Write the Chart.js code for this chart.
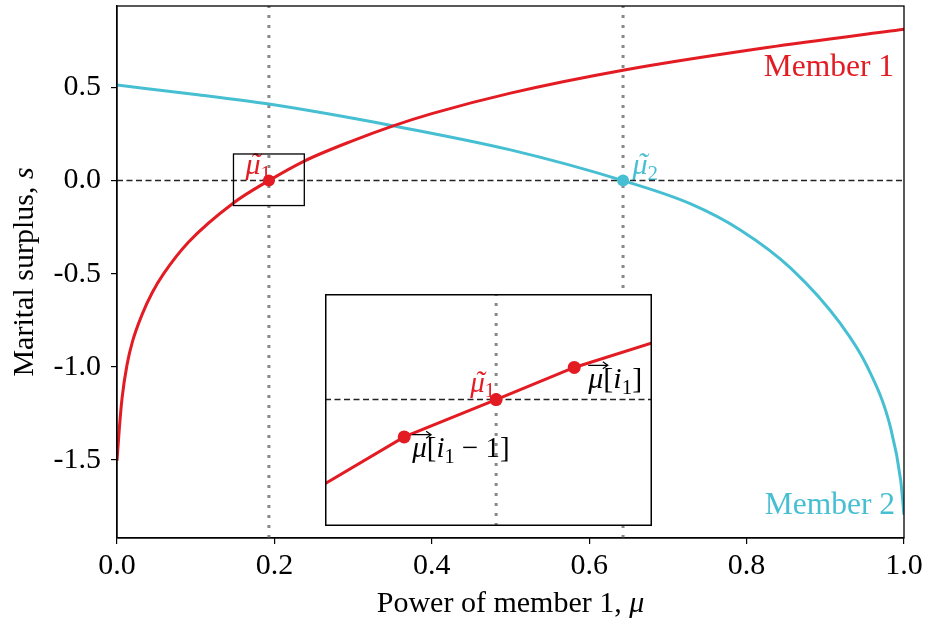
<!DOCTYPE html>
<html lang="en">
<head>
<meta charset="UTF-8">
<title>Marital surplus</title>
<script src="https://cdn.jsdelivr.net/npm/chart.js"></script>
<style>
  body { margin: 0; background: #fff; }
  #wrap { position: relative; width: 926px; height: 626px; }
  #main { position: absolute; left: 0; top: 0; }
  #inset { position: absolute; left: 325px; top: 294px; }
</style>
</head>
<body>
<div id="wrap">
  <canvas id="main" width="926" height="626"></canvas>
  <canvas id="inset" width="327" height="232"></canvas>
</div>
<script>
// member 1 surplus (red)
const mu1 = [0, 0.003, 0.0064, 0.0127, 0.02, 0.0318, 0.045, 0.0593, 0.091, 0.148, 0.193, 0.238, 0.30, 0.35, 0.40, 0.50, 0.643, 0.826, 1.0];
const s1  = [-1.505, -1.33, -1.17, -0.99, -0.86, -0.72, -0.6, -0.5, -0.33, -0.12, 0, 0.105, 0.215, 0.293, 0.36, 0.47, 0.593, 0.715, 0.813];
// member 2 surplus (cyan)
const mu2 = [0, 0.1, 0.193, 0.35, 0.5, 0.643, 0.729, 0.792, 0.856, 0.9195, 0.9534, 0.9831, 0.9958, 1.0];
const s2  = [0.513, 0.463, 0.411, 0.295, 0.165, 0, -0.125, -0.265, -0.47, -0.77, -1.0, -1.33, -1.61, -1.795];
// roots
const muTilde = [0.193, 0.643];
const xTicks = [0, 0.2, 0.4, 0.6, 0.8, 1.0];
const yTicks = [-1.5, -1.0, -0.5, 0, 0.5];
const xRange = [0, 1];
const yRange = [-1.92, 0.938];
// zoom window shown in the inset
const zoomBoxX = [0.148, 0.238];
const zoomBoxY = [-0.134, 0.143];
// inset: discrete grid around mu~1
const insetMu = [0.1459, 0.1677, 0.193, 0.2145, 0.2359];
const insetS  = [-0.1005, -0.0447, 0, 0.0383, 0.0677];
const insetX = [0.1459, 0.2359];
const insetY = [-0.151, 0.126];

const RED = '#e31b23';
const CYAN = '#47bfd2';
const SERIF = '"Liberation Serif", "DejaVu Serif", serif';

const pts = (xs, ys) => xs.map((x, i) => ({x: x, y: ys[i]}));

// draws a small run of "math" text: italic parts, subscripts, tilde and arrow accents
function drawMath(ctx, x, y, parts, color, size, align) {
    const fontOf = p => (p.it ? 'italic ' : '') + (p.sub ? size * 0.7 : size) + 'px ' + SERIF;
    ctx.save();
    ctx.fillStyle = color;
    ctx.strokeStyle = color;
    ctx.textBaseline = 'alphabetic';
    ctx.textAlign = 'left';
    let w = 0;
    parts.forEach(p => { ctx.font = fontOf(p); w += ctx.measureText(p.t).width; });
    let cx = align === 'right' ? x - w : (align === 'center' ? x - w / 2 : x);
    parts.forEach(p => {
        ctx.font = fontOf(p);
        const pw = ctx.measureText(p.t).width;
        const py = p.sub ? y + size * 0.2 : y;
        ctx.fillText(p.t, cx, py);
        if (p.tilde) {
            ctx.textAlign = 'center';
            ctx.fillText('\u02DC', cx + pw / 2 + size * 0.08, y - 1);
            ctx.textAlign = 'left';
        }
        if (p.arrow) {
            const ay = y - size * 0.77;
            const x0 = cx, x1 = cx + pw + size * 0.15;
            ctx.lineWidth = 1.2;
            ctx.beginPath();
            ctx.moveTo(x0, ay); ctx.lineTo(x1, ay);
            ctx.moveTo(x1 - 5, ay - 3.5); ctx.lineTo(x1, ay); ctx.lineTo(x1 - 5, ay + 3.5);
            ctx.stroke();
        }
        cx += pw;
    });
    ctx.restore();
}

const mainDecor = {
    id: 'mainDecor',
    beforeDatasetsDraw(chart) {
        const ctx = chart.ctx, xs = chart.scales.x, ys = chart.scales.y;
        // root labels
        const px1 = xs.getPixelForValue(muTilde[0]), px2 = xs.getPixelForValue(muTilde[1]);
        const py0 = ys.getPixelForValue(0);
        drawMath(ctx, px1 - 23.5, py0 - 7, [{t: 'μ', it: 1, tilde: 1}, {t: '1', sub: 1}], RED, 30, 'left');
        drawMath(ctx, px2 + 9.5, py0 - 7, [{t: 'μ', it: 1, tilde: 1}, {t: '2', sub: 1}], CYAN, 30, 'left');
    },
    afterDraw(chart) {
        const ctx = chart.ctx, a = chart.chartArea, xs = chart.scales.x, ys = chart.scales.y;
        ctx.save();
        // zoom box
        const bx0 = xs.getPixelForValue(zoomBoxX[0]), bx1 = xs.getPixelForValue(zoomBoxX[1]);
        const by0 = ys.getPixelForValue(zoomBoxY[1]), by1 = ys.getPixelForValue(zoomBoxY[0]);
        ctx.strokeStyle = '#000';
        ctx.lineWidth = 1.3;
        ctx.strokeRect(bx0, by0, bx1 - bx0, by1 - by0);
        // frame
        ctx.strokeRect(a.left, a.top, a.right - a.left, a.bottom - a.top);
        // curve names
        ctx.font = '31.5px ' + SERIF;
        ctx.textAlign = 'right';
        ctx.fillStyle = RED;
        ctx.fillText('Member 1', a.right - 10, 76);
        ctx.fillStyle = CYAN;
        ctx.fillText('Member 2', a.right - 9, 514);
        ctx.restore();
        // axis titles
        drawMath(ctx, (a.left + a.right) / 2, 612, [{t: 'Power of member 1, '}, {t: 'μ', it: 1}], '#000', 30, 'center');
        ctx.save();
        ctx.translate(33, (a.top + a.bottom) / 2);
        ctx.rotate(-Math.PI / 2);
        drawMath(ctx, 0, 0, [{t: 'Marital surplus, '}, {t: 's', it: 1}], '#000', 30, 'center');
        ctx.restore();
    }
};

new Chart(document.getElementById('main'), {
    type: 'line',
    data: {
        datasets: [
            {data: pts([muTilde[0]], [0]), showLine: false, pointRadius: 6, pointBackgroundColor: RED, pointBorderWidth: 0, order: 0},
            {data: pts([muTilde[1]], [0]), showLine: false, pointRadius: 6, pointBackgroundColor: CYAN, pointBorderWidth: 0, order: 0},
            {data: pts(mu1, s1), borderColor: RED, borderWidth: 3, pointRadius: 0, cubicInterpolationMode: 'monotone', order: 1},
            {data: pts(mu2, s2), borderColor: CYAN, borderWidth: 3, pointRadius: 0, cubicInterpolationMode: 'monotone', order: 1},
            {data: pts(xRange, [0, 0]), borderColor: '#222', borderWidth: 1.5, borderDash: [6, 3.5], pointRadius: 0, order: 2},
            {data: pts([muTilde[0], muTilde[0]], yRange), borderColor: '#888', borderWidth: 3, borderDash: [3, 7], pointRadius: 0, order: 2},
            {data: pts([muTilde[1], muTilde[1]], yRange), borderColor: '#888', borderWidth: 3, borderDash: [3, 7], pointRadius: 0, order: 2}
        ]
    },
    options: {
        responsive: false,
        animation: false,
        layout: {padding: {top: 5, right: 22, left: 0, bottom: 0}},
        plugins: {legend: {display: false}, tooltip: {enabled: false}},
        scales: {
            x: {
                type: 'linear', min: xRange[0], max: xRange[1],
                afterBuildTicks: s => { s.ticks = xTicks.map(v => ({value: v})); },
                afterFit: s => { s.height = 88; s.paddingLeft = 0; s.paddingRight = 0; },
                grid: {drawOnChartArea: false, tickLength: 6, color: '#000', lineWidth: 1.2},
                border: {color: '#000', width: 1.3},
                ticks: {color: '#000', font: {family: SERIF, size: 30}, padding: 4, maxRotation: 0, autoSkip: false,
                        callback: v => v.toFixed(1)}
            },
            y: {
                type: 'linear', min: yRange[0], max: yRange[1],
                afterBuildTicks: s => { s.ticks = yTicks.map(v => ({value: v})); },
                afterFit: s => { s.width = 117; s.paddingTop = 0; s.paddingBottom = 0; },
                grid: {drawOnChartArea: false, tickLength: 6, color: '#000', lineWidth: 1.2},
                border: {color: '#000', width: 1.3},
                ticks: {color: '#000', font: {family: SERIF, size: 30}, padding: 10, autoSkip: false,
                        callback: v => v.toFixed(1)}
            }
        }
    },
    plugins: [mainDecor]
});

const insetDecor = {
    id: 'insetDecor',
    beforeDraw(chart) {
        const ctx = chart.ctx;
        ctx.save();
        ctx.fillStyle = '#fff';
        ctx.fillRect(0, 0, chart.width, chart.height);
        ctx.restore();
    },
    afterDatasetsDraw(chart) {
        const ctx = chart.ctx, xs = chart.scales.x, ys = chart.scales.y;
        const p = i => [xs.getPixelForValue(insetMu[i]), ys.getPixelForValue(insetS[i])];
        const [lx, ly] = p(1), [cx, cy] = p(2), [rx, ry] = p(3);
        drawMath(ctx, cx - 26, cy - 8, [{t: 'μ', it: 1, tilde: 1}, {t: '1', sub: 1}], RED, 29, 'left');
        drawMath(ctx, rx + 14, ry + 21, [{t: 'μ', it: 1, arrow: 1}, {t: '['}, {t: 'i', it: 1}, {t: '1', sub: 1}, {t: ']'}], '#000', 30, 'left');
        drawMath(ctx, lx + 8, ly + 20, [{t: 'μ', it: 1, arrow: 1}, {t: '['}, {t: 'i', it: 1}, {t: '1', sub: 1}, {t: ' \u2212 '}, {t: '1'}, {t: ']'}], '#000', 29, 'left');
        ctx.save();
        ctx.strokeStyle = '#000';
        ctx.lineWidth = 1.5;
        ctx.strokeRect(0.75, 0.75, chart.width - 1.5, chart.height - 1.5);
        ctx.restore();
    }
};

new Chart(document.getElementById('inset'), {
    type: 'line',
    data: {
        datasets: [
            {data: pts(insetMu, insetS), borderColor: RED, borderWidth: 3, tension: 0,
             pointRadius: [0, 6.5, 6.5, 6.5, 0], pointBackgroundColor: RED, pointBorderWidth: 0, order: 0},
            {data: pts(insetX, [0, 0]), borderColor: '#222', borderWidth: 1.5, borderDash: [6, 3.5], pointRadius: 0, order: 1},
            {data: pts([muTilde[0], muTilde[0]], insetY), borderColor: '#888', borderWidth: 3, borderDash: [3, 7], pointRadius: 0, order: 1}
        ]
    },
    options: {
        responsive: false,
        animation: false,
        layout: {padding: 0},
        plugins: {legend: {display: false}, tooltip: {enabled: false}},
        scales: {
            x: {type: 'linear', display: false, min: insetX[0], max: insetX[1]},
            y: {type: 'linear', display: false, min: insetY[0], max: insetY[1]}
        }
    },
    plugins: [insetDecor]
});
</script>
</body>
</html>
